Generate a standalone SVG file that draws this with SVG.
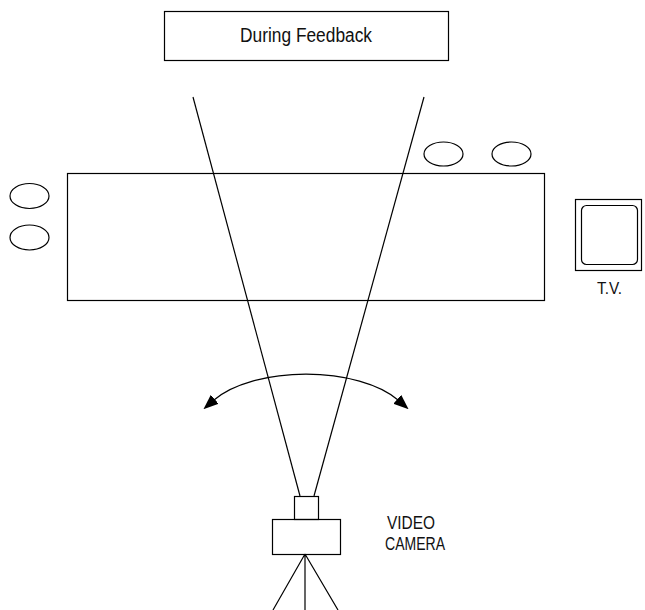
<svg xmlns="http://www.w3.org/2000/svg" width="645" height="610" viewBox="0 0 645 610">
  <style>
    .ln { fill: none; stroke: #000; stroke-width: 1.2; }
    .lbl { font-family: "Liberation Sans Narrow", "Liberation Sans", Arial, sans-serif; fill: #111; }
  </style>
  <defs>
    <marker id="head" viewBox="0 0 15 12" refX="1" refY="6" markerWidth="15" markerHeight="12" markerUnits="userSpaceOnUse" orient="auto-start-reverse">
      <path d="M0,0 L15,6 L0,12 Z" fill="#000"/>
    </marker>
  </defs>
  <rect width="645" height="610" fill="#fff"/>

  <g id="title">
    <rect class="ln" x="164.5" y="11.5" width="284" height="49"/>
    <text class="lbl" x="240" y="42" font-size="19.5" textLength="132" lengthAdjust="spacingAndGlyphs">During Feedback</text>
  </g>

  <g id="table">
    <rect class="ln" x="67.5" y="173.5" width="477" height="127"/>
  </g>

  <g id="seat-left-1"><ellipse class="ln" cx="29.5" cy="196" rx="19.5" ry="12.5"/></g>
  <g id="seat-left-2"><ellipse class="ln" cx="29.5" cy="237.5" rx="19.5" ry="12.5"/></g>
  <g id="seat-top-1"><ellipse class="ln" cx="443.5" cy="154" rx="19.5" ry="12"/></g>
  <g id="seat-top-2"><ellipse class="ln" cx="511.5" cy="154" rx="19.5" ry="12"/></g>

  <g id="tv">
    <rect class="ln" x="575.5" y="199.5" width="66" height="71"/>
    <rect class="ln" x="581.5" y="205.5" width="56" height="59" rx="5"/>
    <text class="lbl" x="597" y="294" font-size="16" textLength="25" lengthAdjust="spacingAndGlyphs">T.V.</text>
  </g>

  <g id="camera">
    <rect class="ln" x="294.5" y="496.5" width="24" height="23"/>
    <rect class="ln" x="272.5" y="519.5" width="68" height="35"/>
    <path class="ln" d="M305,554 L273,610 M305,554 L305,610 M305,554 L338,610"/>
    <text class="lbl" x="387" y="529" font-size="18" textLength="48" lengthAdjust="spacingAndGlyphs">VIDEO</text>
    <text class="lbl" x="385" y="550" font-size="18" textLength="60" lengthAdjust="spacingAndGlyphs">CAMERA</text>
  </g>

  <g id="connectors">
    <path class="ln" d="M193,97 L300,496"/>
    <path class="ln" d="M424,97 L314,496"/>
    <path class="ln" d="M214,400 A105,50 0 0 1 398,400" marker-start="url(#head)" marker-end="url(#head)"/>
  </g>
</svg>
